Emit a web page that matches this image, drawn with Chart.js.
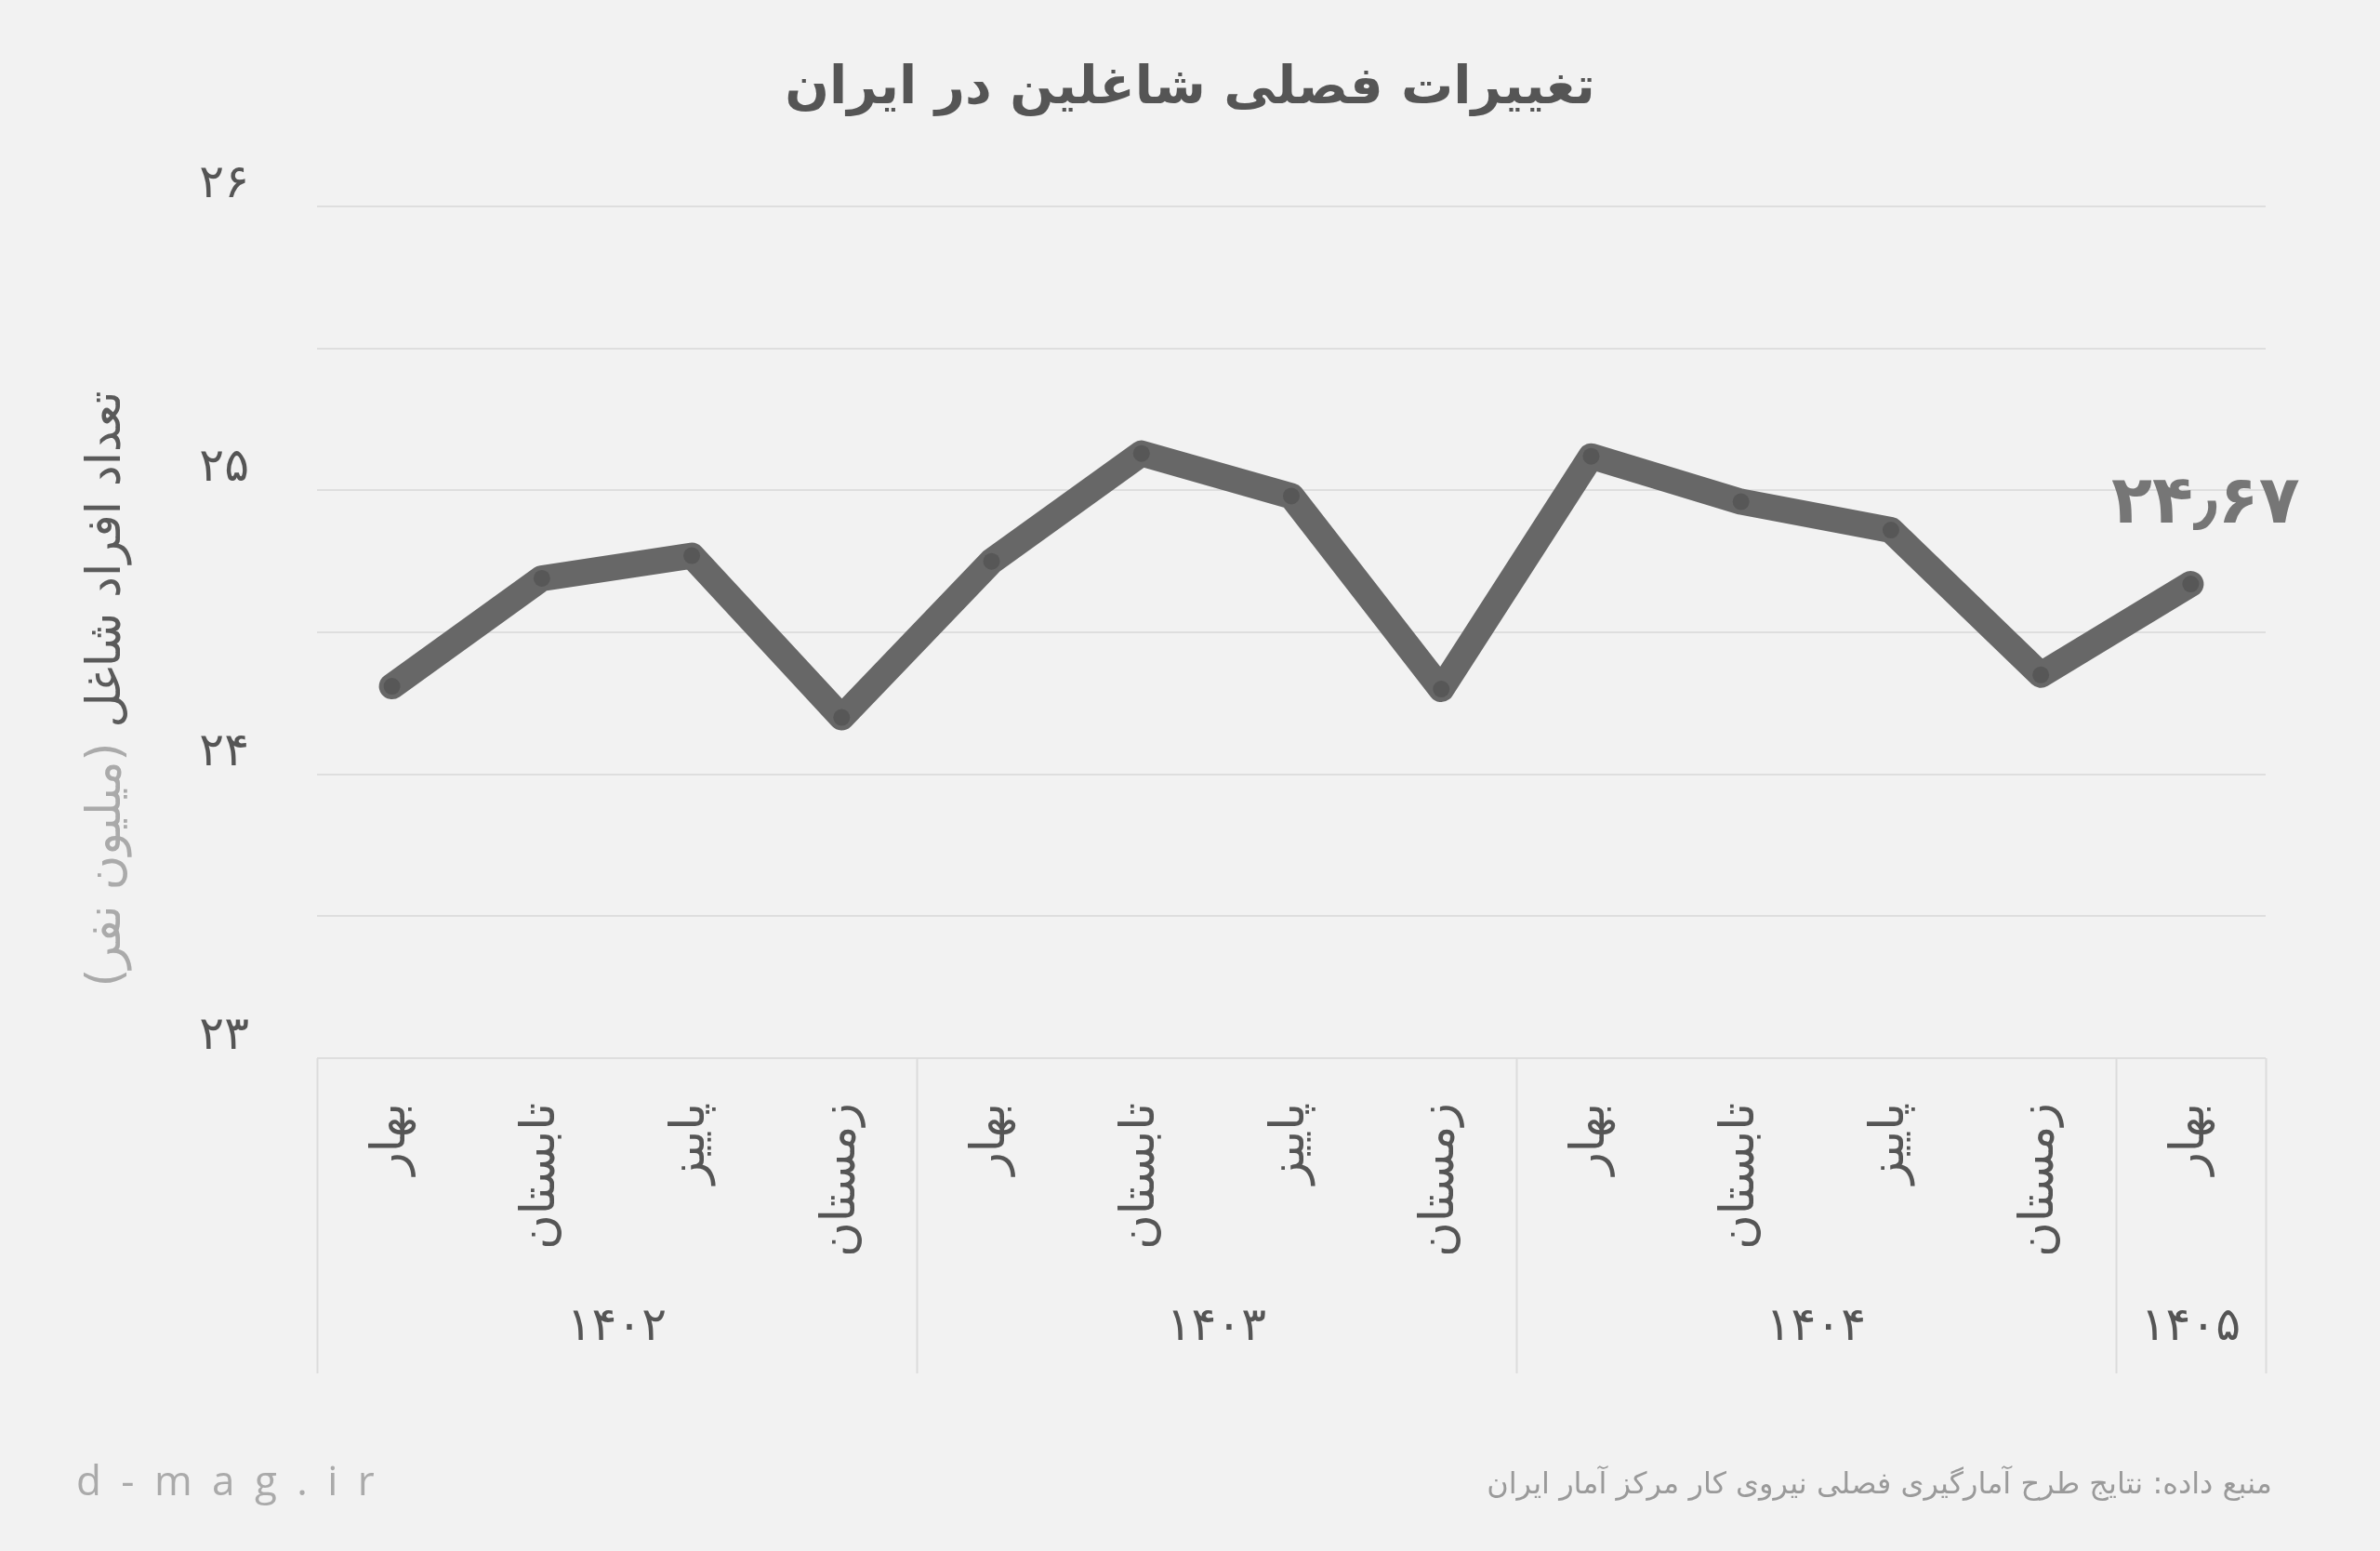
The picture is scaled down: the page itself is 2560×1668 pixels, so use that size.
<!DOCTYPE html>
<html><head><meta charset="utf-8">
<script src="https://cdn.jsdelivr.net/npm/chart.js@4.4.1/dist/chart.umd.min.js"></script>
<style>html,body{margin:0;padding:0;background:#f2f2f2;overflow:hidden;} canvas{display:block;}</style>
</head><body>
<canvas id="c" width="2560" height="1668" style="width:2560px;height:1668px"></canvas>
<script>
// ---- data ----
const seasons = ['بهار','تابستان','پاییز','زمستان','بهار','تابستان','پاییز','زمستان','بهار','تابستان','پاییز','زمستان','بهار'];
const employed = [24.31, 24.69, 24.77, 24.20, 24.75, 25.13, 24.98, 24.30, 25.12, 24.96, 24.86, 24.35, 24.67];
const years = [1402, 1403, 1404, 1405];
const quartersPerYear = [4, 4, 4, 1];
const yTickValues = [23, 24, 25, 26];
const titleText = 'تغییرات فصلی شاغلین در ایران';
const yTitleMain = 'تعداد افراد شاغل';
const yTitleUnit = '(میلیون نفر)';
const sourceText = 'منبع داده: نتایج طرح آمارگیری فصلی نیروی کار مرکز آمار ایران';
const brandText = 'd - m a g . i r';

const FONT = "'DejaVu Sans', sans-serif";
const faDigits = '۰۱۲۳۴۵۶۷۸۹';
function toFa(v) {
  return String(v).replace(/[0-9]/g, d => faDigits[+d]).replace('.', '٫');
}

const decor = {
  id: 'decor',
  beforeDraw(chart) {
    const ctx = chart.ctx;
    ctx.save();
    ctx.fillStyle = '#f2f2f2';
    ctx.fillRect(0, 0, chart.width, chart.height);
    ctx.restore();
  },
  afterDatasetsDraw(chart) {
    const ctx = chart.ctx;
    const meta = chart.getDatasetMeta(0);
    const last = employed.length - 1;
    const pt = meta.data[last];
    ctx.save();
    ctx.direction = 'rtl';
    ctx.textAlign = 'center';
    ctx.textBaseline = 'middle';
    ctx.fillStyle = '#767676';
    ctx.font = 'bold 72px ' + FONT;
    ctx.fillText(toFa(employed[last].toFixed(2)), pt.x + 16, pt.y - 85);
    ctx.restore();
  },
  afterDraw(chart) {
    const ctx = chart.ctx;
    const xs = chart.scales.x;
    const area = chart.chartArea;
    ctx.save();
    // title
    ctx.direction = 'rtl';
    ctx.textAlign = 'center';
    ctx.textBaseline = 'middle';
    ctx.fillStyle = '#555555';
    ctx.font = 'bold 56px ' + FONT;
    ctx.fillText(titleText, chart.width / 2, 96);

    // group separators and year labels
    const half = (xs.getPixelForValue(1) - xs.getPixelForValue(0)) / 2;
    let start = 0;
    const bottomY = 1477;
    ctx.strokeStyle = '#dcdcdc';
    ctx.lineWidth = 2;
    const drawSep = (px) => {
      ctx.beginPath();
      ctx.moveTo(Math.round(px) + 0.5, area.bottom);
      ctx.lineTo(Math.round(px) + 0.5, bottomY);
      ctx.stroke();
    };
    drawSep(xs.getPixelForValue(0) - half);
    ctx.font = '50px ' + FONT;
    ctx.fillStyle = '#555555';
    quartersPerYear.forEach((n, i) => {
      const x0 = xs.getPixelForValue(start) - half;
      const x1 = xs.getPixelForValue(start + n - 1) + half;
      drawSep(x1);
      ctx.fillText(toFa(years[i]), (x0 + x1) / 2, 1428);
      start += n;
    });

    // y axis title (two tones)
    ctx.save();
    ctx.translate(116, 741);
    ctx.rotate(-Math.PI / 2);
    ctx.font = '51px ' + FONT;
    const w1 = ctx.measureText(yTitleMain).width;
    const ws = ctx.measureText(' ').width;
    const w2 = ctx.measureText(yTitleUnit).width;
    const tot = w1 + ws + w2;
    ctx.textAlign = 'right';
    ctx.fillStyle = '#5a5a5a';
    ctx.fillText(yTitleMain, tot / 2, 0);
    ctx.textAlign = 'left';
    ctx.fillStyle = '#aaaaaa';
    ctx.fillText(yTitleUnit, -tot / 2, 0);
    ctx.restore();

    // footer
    ctx.direction = 'ltr';
    ctx.textAlign = 'left';
    ctx.fillStyle = '#aaaaaa';
    ctx.font = "44px 'Open Sans', sans-serif";
    ctx.letterSpacing = '5px';
    ctx.fillText(brandText, 82, 1595);
    ctx.letterSpacing = '0px';
    ctx.direction = 'rtl';
    ctx.textAlign = 'right';
    ctx.fillStyle = '#9a9a9a';
    ctx.font = '32px ' + FONT;
    ctx.fillText(sourceText, 2444, 1598);
    ctx.restore();
  }
};

Chart.defaults.font.family = FONT;

new Chart(document.getElementById('c'), {
  type: 'line',
  data: {
    labels: seasons,
    datasets: [{
      data: employed,
      borderColor: '#676767',
      borderWidth: 28,
      borderJoinStyle: 'round',
      borderCapStyle: 'round',
      pointRadius: 9,
      pointHoverRadius: 9,
      pointBackgroundColor: '#575757',
      pointBorderWidth: 0,
      tension: 0,
      fill: false
    }]
  },
  options: {
    responsive: false,
    devicePixelRatio: 1,
    animation: false,
    layout: { padding: { top: 222, right: 123, left: 0, bottom: 0 } },
    plugins: { legend: { display: false }, tooltip: { enabled: false }, title: { display: false } },
    scales: {
      x: {
        offset: true,
        afterFit(s) { s.height = 530; },
        grid: { display: false },
        border: { display: false },
        ticks: {
          autoSkip: false,
          minRotation: 90,
          maxRotation: 90,
          padding: 40,
          color: '#555555',
          font: { size: 51 }
        }
      },
      y: {
        min: 23,
        max: 26,
        afterFit(s) { s.width = 341; },
        grid: { color: '#dedede', lineWidth: 2, drawTicks: false },
        border: { display: false },
        ticks: {
          stepSize: 0.5,
          padding: 73,
          labelOffset: -23,
          color: '#555555',
          font: { size: 50 },
          callback: v => yTickValues.includes(v) ? toFa(v) : ''
        }
      }
    }
  },
  plugins: [decor]
});
</script>
</body></html>
